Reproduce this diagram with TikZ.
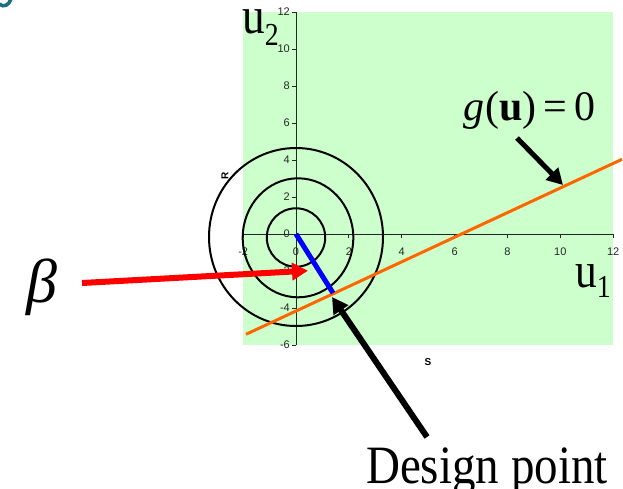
\documentclass[tikz,border=0pt]{standalone}
\usepackage{fontspec}
\setmainfont{Liberation Serif}
\newfontfamily\arialf{Liberation Sans}
\usetikzlibrary{arrows.meta}
\definecolor{plotgreen}{RGB}{204,255,204}
\definecolor{gorange}{RGB}{255,102,0}
\definecolor{tealc}{RGB}{28,108,135}
\begin{document}
\begin{tikzpicture}[x=1pt,y=-1pt,
  axisline/.style={line width=0.8pt, black!85},
  tickmark/.style={line width=0.8pt, black!85},
  ticklab/.style={font=\arialf\fontsize{11}{11}\selectfont, inner sep=0pt, text=black!85},
  axtitle/.style={font=\arialf\bfseries\fontsize{10}{10}\selectfont, inner sep=0pt},
  ring/.style={line width=2pt, black},
  bigarrow/.style={line width=5.5pt, -{Triangle[length=16pt,width=17pt]}},
  bigtext/.style={inner sep=0pt, anchor=base west},
]
\useasboundingbox (0,0) rectangle (623,488);
% partial title glyph
\draw[tealc, line width=3.5pt] (-1,4) .. controls (4,8) and (9,5) .. (11,-1);
% plot area
\fill[plotgreen] (243,12) rectangle (613,345);
\coordinate (O) at (296,234);
\draw[axisline] (296,12) -- (296,345);
\draw[axisline] (243,234) -- (613,234);
\foreach \v in {-6,-4,...,12} {
  \draw[tickmark] (292,{234-18.5*(\v)}) -- (296,{234-18.5*(\v)});
  \node[ticklab, anchor=east] (ylab\v) at (290,{234-18.5*(\v)}) {\v};
}
\foreach \u in {-2,0,...,12} {
  \draw[tickmark] ({296+26.43*(\u)},234) -- ({296+26.43*(\u)},238);
  \node[ticklab, anchor=base] (xlab\u) at ({296+26.43*(\u)},255.7) {\u};
}
\node[axtitle, rotate=90] (Rlab) at (225,176) {R};
\node[axtitle] (Slab) at (428,362) {S};
% rings
\draw[ring] (296,237.5) ellipse [x radius=29.2, y radius=29.2];
\draw[ring] (298,237.8) ellipse [x radius=55.3, y radius=59.5];
\draw[ring] (296,237) ellipse [x radius=87, y radius=89];
% limit state line
\coordinate (gA) at (246,334.3);
\coordinate (gB) at (622,159.3);
\draw[gorange, line width=3pt] (gA) -- (gB);
% beta segment
\coordinate (D) at (333,293);
\draw[blue, line width=5pt] (O) -- (D);
% labels
\node[bigtext] (u2) at (242,33) {\scalebox{0.87}[1]{\fontsize{52}{52}\selectfont u\raisebox{-12pt}{\fontsize{32}{32}\selectfont 2}}};
\node[bigtext] (u1) at (575,287) {\scalebox{0.87}[1]{\fontsize{50}{50}\selectfont u\raisebox{-10pt}{\fontsize{32}{32}\selectfont 1}}};
\node[bigtext] (glab) at (463,120) {\fontsize{42}{42}\selectfont\textit{g}\hspace{1pt}(\textbf{u})\hspace{7pt}=\hspace{7pt}0};
\node[bigtext] (dlab) at (366,483) {\scalebox{0.87}[1]{\fontsize{54}{54}\selectfont Design point}};
\node[inner sep=0pt] (beta) at (42,287) {\fontsize{62}{62}\selectfont\itshape β};
% arrows
\coordinate (rs) at (82,283);
\coordinate (rt) at (308,270.7);
\draw[bigarrow, red, line width=6pt] (rs) -- (rt);
\coordinate (gs) at (517,138);
\coordinate (gt) at (563,185);
\draw[bigarrow, black, line width=5pt] (gs) -- (gt);
\coordinate (ds) at (427,437);
\coordinate (dt) at (332,297);
\draw[bigarrow, black, line width=6pt] (ds) -- (dt);
\end{tikzpicture}
\end{document}
